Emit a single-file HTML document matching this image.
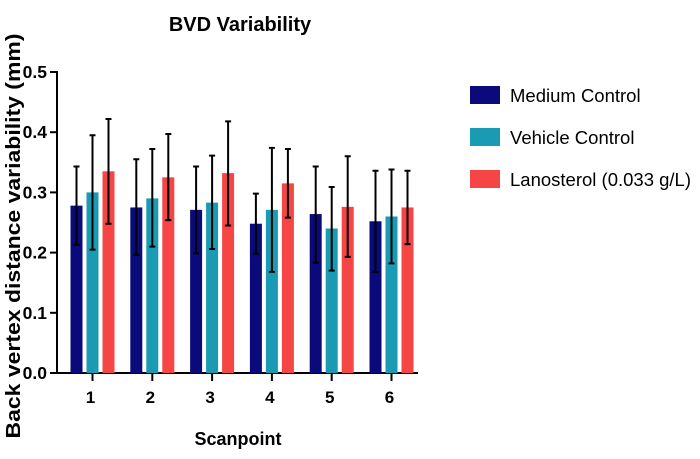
<!DOCTYPE html>
<html><head><meta charset="utf-8"><style>
body{margin:0;background:#fff;font-family:"Liberation Sans",Arial,sans-serif}
svg{display:block}
</style></head><body>
<svg id="c" width="700" height="459">
<text x="240" y="31" text-anchor="middle" font-size="20" font-weight="bold">BVD Variability</text>
<text transform="translate(20,236) rotate(-90)" text-anchor="middle" font-size="20" font-weight="bold" textLength="405" lengthAdjust="spacingAndGlyphs">Back vertex distance variability (mm)</text>
<text x="238" y="445" text-anchor="middle" font-size="18" font-weight="bold">Scanpoint</text>
<g id="plot"></g>
<g id="legend"></g>
</svg>
<script>
const categories=["1","2","3","4","5","6"];
const seriesNames=["Medium Control","Vehicle Control","Lanosterol (0.033 g/L)"];
const medium=[0.278,0.275,0.271,0.248,0.264,0.252];
const vehicle=[0.300,0.290,0.283,0.271,0.240,0.260];
const lano=[0.335,0.325,0.332,0.315,0.276,0.275];
const mediumHi=[0.343,0.355,0.343,0.298,0.343,0.336];
const mediumLo=[0.213,0.196,0.199,0.198,0.183,0.168];
const vehicleHi=[0.395,0.372,0.361,0.374,0.309,0.338];
const vehicleLo=[0.205,0.210,0.206,0.168,0.170,0.182];
const lanoHi=[0.422,0.397,0.418,0.372,0.360,0.336];
const lanoLo=[0.248,0.254,0.245,0.258,0.193,0.214];
const yTicks=[0,0.1,0.2,0.3,0.4,0.5];
const colors=["#0a0a7a","#1a9bb3","#f54545"];
const NS="http://www.w3.org/2000/svg";
const y0=373,y1=72;
function yS(v){return y0-(v/0.5)*(y0-y1);}
function xC(i){return 92.5+i*59.8;}
const plot=document.getElementById('plot');
function mk(t,a,p){const e=document.createElementNS(NS,t);for(const k in a)e.setAttribute(k,a[k]);(p||plot).appendChild(e);return e;}
let ax=mk('line',{x1:57,y1:y0,x2:418,y2:y0,stroke:'#000','stroke-width':2});


let ay=mk('line',{x1:57,y1:y1-1,x2:57,y2:y0+1,stroke:'#000','stroke-width':2});


yTicks.forEach(t=>{
  mk('line',{x1:50,y1:yS(t),x2:57,y2:yS(t),stroke:'#000','stroke-width':2});
  const tx=mk('text',{x:47,y:yS(t)+6,'text-anchor':'end','font-size':17.5,'font-weight':'bold'});
  tx.textContent=t.toFixed(1);
  
  
});
const vals=[medium,vehicle,lano],his=[mediumHi,vehicleHi,lanoHi],los=[mediumLo,vehicleLo,lanoLo];
categories.forEach((c,i)=>{
  const cx=xC(i);
  mk('line',{x1:cx,y1:y0,x2:cx,y2:y0+8,stroke:'#000','stroke-width':2});
  const tl=mk('text',{x:cx-2,y:y0+30,'text-anchor':'middle','font-size':17,'font-weight':'bold'});
  tl.textContent=c;
  
  
  for(let s=0;s<3;s++){
    const bx=cx+(s-1)*16;
    const b=mk('rect',{x:bx-6,y:yS(vals[s][i]),width:12,height:y0-yS(vals[s][i]),fill:colors[s]});
    
    
    const e=mk('path',{d:`M${bx},${yS(los[s][i])}V${yS(his[s][i])}M${bx-3},${yS(his[s][i])}H${bx+3}M${bx-3},${yS(los[s][i])}H${bx+3}`,stroke:'#000','stroke-width':2,fill:'none'});
    
    
  }
});
const lg=document.getElementById('legend');
seriesNames.forEach((n,s)=>{
  const y=86+s*42;
  const r=mk('rect',{x:470,y:y,width:30,height:18,fill:colors[s]},lg);
  
  
  const t=mk('text',{x:510,y:y+16,'font-size':18.5},lg);
  t.textContent=n;
  
  
});
</script>
</body></html>
